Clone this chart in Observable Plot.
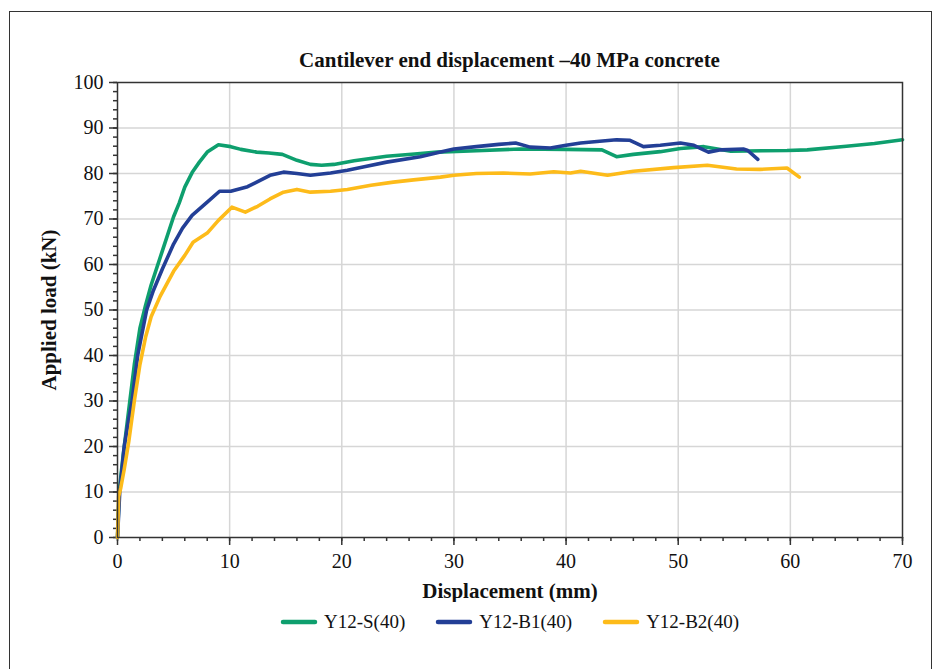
<!DOCTYPE html>
<html>
<head>
<meta charset="utf-8">
<script src="https://cdn.jsdelivr.net/npm/d3@7"></script>
<script src="https://cdn.jsdelivr.net/npm/@observablehq/plot@0.6"></script>
<style>
  html, body { margin: 0; padding: 0; background: #fff; }
  body { width: 938px; height: 669px; position: relative; overflow: hidden; font-family: "Liberation Serif", "DejaVu Serif", serif; }
  #border { position: absolute; left: 9px; top: 11px; width: 923px; height: 700px; border: 1.5px solid #333; box-sizing: border-box; }
  #title { position: absolute; left: 117px; width: 785px; top: 47px; text-align: center; font-weight: bold; font-size: 21px; line-height: 26px; color: #111; }
  #chart { position: absolute; left: 0; top: 72px; }
  #legend { position: absolute; left: 117px; width: 785px; top: 610px; display: flex; justify-content: center; align-items: center; font-size: 19px; line-height: 24px; color: #111; }
  .item { display: flex; align-items: center; margin: 0 15px; }
  .item svg { margin-right: 6px; }
</style>
</head>
<body>
<div id="border"></div>
<div id="title">Cantilever end displacement –40 MPa concrete</div>
<div id="chart"></div>
<div id="legend"></div>
<script>
// ---- data ----
const seriesNames = ["Y12-S(40)", "Y12-B1(40)", "Y12-B2(40)"];

const dispS = [0, 0.15, 0.5, 1.0, 1.5, 2.0, 2.5, 3.0, 4.0, 5.0, 5.5, 6.0, 6.7, 7.3, 8.0, 9.0, 10.1, 11.0, 12.4, 13.5, 14.7, 16.0, 17.2, 18.2, 19.3, 21.1, 24.0, 26.5, 28.5, 32.0, 35.9, 40.0, 43.2, 44.5, 46.0, 48.4, 50.2, 52.3, 54.7, 57.5, 59.7, 61.5, 65.0, 67.5, 70.0];
const loadS = [0, 10, 18, 28, 38, 46, 51, 55.5, 63, 70.5, 73.5, 77, 80.4, 82.5, 84.7, 86.3, 85.9, 85.3, 84.7, 84.5, 84.2, 82.9, 82.0, 81.8, 82.0, 82.8, 83.8, 84.3, 84.7, 85.0, 85.4, 85.3, 85.2, 83.7, 84.2, 84.8, 85.5, 85.9, 84.9, 85.0, 85.05, 85.2, 86.0, 86.6, 87.4];

const dispB1 = [0, 0.2, 0.6, 1.0, 1.3, 1.8, 2.6, 3.2, 4.0, 5.0, 5.8, 6.65, 8.0, 9.1, 10.1, 11.6, 12.5, 13.6, 14.8, 16.0, 17.2, 19.0, 20.5, 22.0, 24.0, 27.0, 28.8, 30.0, 32.0, 34.0, 35.5, 36.8, 38.6, 40.0, 41.3, 43.0, 44.5, 45.7, 46.9, 48.4, 50.2, 51.4, 52.7, 53.8, 55.8, 56.2, 57.1];
const loadB1 = [0, 10, 20, 26, 30, 40, 50, 54.3, 59, 64.5, 68, 70.8, 73.7, 76.1, 76.1, 77.1, 78.2, 79.6, 80.3, 80.0, 79.6, 80.1, 80.7, 81.5, 82.5, 83.7, 84.7, 85.4, 85.9, 86.4, 86.7, 85.8, 85.6, 86.2, 86.7, 87.1, 87.4, 87.3, 85.9, 86.2, 86.7, 86.2, 84.7, 85.2, 85.4, 85.05, 83.1];

const dispB2 = [0, 0.1, 0.3, 0.6, 1.0, 1.5, 2.0, 2.5, 3.0, 3.8, 5.0, 6.0, 6.74, 8.0, 9.0, 10.2, 11.4, 12.5, 13.6, 14.8, 16.0, 17.2, 19.0, 20.5, 22.6, 24.6, 26.4, 28.8, 30.0, 32.0, 34.4, 36.8, 38.9, 40.4, 41.3, 43.7, 46.0, 49.6, 52.6, 55.2, 57.3, 59.7, 60.8];
const loadB2 = [0, 9, 11, 15, 21, 30, 38, 44, 48.5, 53, 58.5, 62, 64.9, 66.9, 69.7, 72.6, 71.5, 72.8, 74.4, 75.9, 76.5, 75.9, 76.1, 76.5, 77.4, 78.1, 78.6, 79.2, 79.6, 80.0, 80.1, 79.9, 80.4, 80.1, 80.5, 79.6, 80.5, 81.3, 81.8, 81.0, 80.9, 81.2, 79.2];

const xTicks = [0, 10, 20, 30, 40, 50, 60, 70];
const yTicks = [0, 10, 20, 30, 40, 50, 60, 70, 80, 90, 100];
const xLabel = "Displacement (mm)";
const yLabel = "Applied load (kN)";

// ---- styles ----
const colors = ["#0E9F6E", "#233F96", "#FDBB1A"];

const rows = [];
[[dispS, loadS], [dispB1, loadB1], [dispB2, loadB2]].forEach(([xs, ys], i) => {
  xs.forEach((d, j) => rows.push({series: seriesNames[i], disp: d, load: ys[j]}));
});

const chart = Plot.plot({
  width: 938,
  height: 530,
  marginTop: 10,
  marginBottom: 65,
  marginLeft: 117,
  marginRight: 36,
  style: {fontFamily: '"Liberation Serif", "DejaVu Serif", serif', fontSize: "20px", color: "#111", background: "transparent"},
  x: {domain: [0, 70]},
  y: {domain: [0, 100]},
  color: {domain: seriesNames, range: colors},
  marks: [
    Plot.gridX(xTicks.slice(1, -1), {stroke: "#d6d6d6", strokeOpacity: 1, strokeWidth: 1.5}),
    Plot.gridY(yTicks.slice(1, -1), {stroke: "#d6d6d6", strokeOpacity: 1, strokeWidth: 1.5}),
    Plot.axisX(d3.range(0, 71, 2), {tickSize: 4, tickFormat: () => "", label: null, stroke: "#333", strokeWidth: 1.5}),
    Plot.axisY(d3.range(0, 101, 2), {tickSize: 4, tickFormat: () => "", label: null, stroke: "#333", strokeWidth: 1.5}),
    Plot.axisX(xTicks, {tickSize: 8, tickPadding: 8, label: null, stroke: "#333", strokeWidth: 1.5, fontSize: 20}),
    Plot.axisY(yTicks, {tickSize: 8, tickPadding: 6, label: null, stroke: "#333", strokeWidth: 1.5, fontSize: 20}),
    Plot.line(rows, {x: "disp", y: "load", stroke: "series", z: "series", strokeWidth: 3.6, strokeLinejoin: "round", strokeLinecap: "round", curve: "linear"}),
    Plot.frame({stroke: "#333", strokeWidth: 1.5}),
    Plot.text([xLabel], {frameAnchor: "bottom", dy: 54, fontWeight: "bold", fontSize: 21, lineAnchor: "middle", textAnchor: "middle"}),
    Plot.text([yLabel], {frameAnchor: "left", dx: -68, rotate: -90, fontWeight: "bold", fontSize: 21, lineAnchor: "middle", textAnchor: "middle"})
  ]
});
document.getElementById("chart").appendChild(chart);

const legend = document.getElementById("legend");
seriesNames.forEach((name, i) => {
  const item = document.createElement("div");
  item.className = "item";
  item.innerHTML = `<svg width="38" height="10"><line x1="3" x2="35" y1="5" y2="5" stroke="${colors[i]}" stroke-width="4.5" stroke-linecap="round"/></svg><span>${name}</span>`;
  legend.appendChild(item);
});
</script>
</body>
</html>
